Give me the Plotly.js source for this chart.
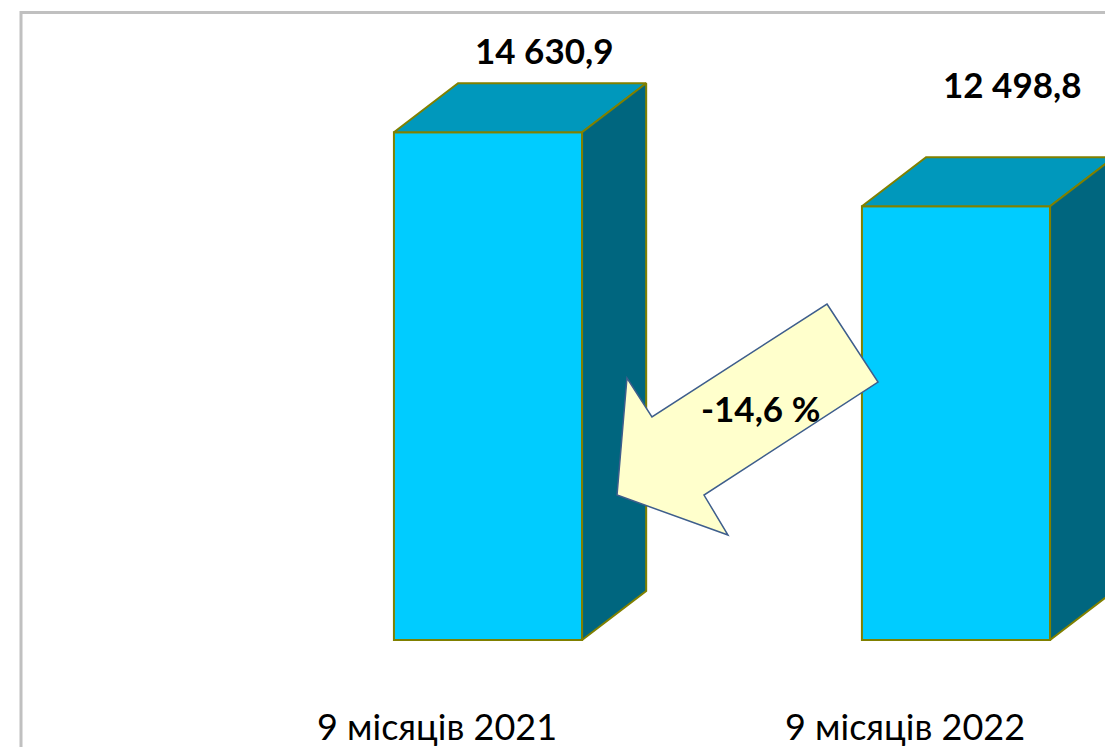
<!DOCTYPE html>
<html>
<head>
<meta charset="utf-8">
<script src="https://cdn.plot.ly/plotly-3.0.1.min.js"></script>
<style>html,body{margin:0;padding:0;background:#fff;}#chart{width:1105px;height:747px;}</style>
</head>
<body>
<div id="chart"></div>
<script>
// ---- data ----
const categories = ["9 місяців 2021", "9 місяців 2022"];
const values = [14630.9, 12498.8];
const valueLabels = ["14 630,9", "12 498,8"];
const changeLabel = "-14,6 %";

// ---- style / geometry (layout only) ----
const W = 1105, H = 747;
const xs = categories.map((c, i) => i);
const barW = 0.402;          // bar width in category units
const depthX = 0.137;        // 3D depth offset (x, category units)
const depthY = 1412;         // 3D depth offset (y, value units)
const frontColor = "#00CCFF", topColor = "#0098BC", sideColor = "#00667F", edge = "#808000";

const traces = [];
// front faces
traces.push({
  type: "bar", x: xs, y: values, width: barW,
  marker: {color: frontColor, line: {color: edge, width: 2}},
  hoverinfo: "skip", showlegend: false
});
// top & side faces derived from values
xs.forEach((x, i) => {
  const v = values[i], l = x - barW / 2, r = x + barW / 2;
  traces.push({
    type: "scatter", mode: "lines", fill: "toself", fillcolor: topColor,
    x: [l, r, r + depthX, l + depthX, l], y: [v, v, v + depthY, v + depthY, v],
    line: {color: edge, width: 2}, hoverinfo: "skip", showlegend: false
  });
  traces.push({
    type: "scatter", mode: "lines", fill: "toself", fillcolor: sideColor,
    x: [r, r + depthX, r + depthX, r, r], y: [0, depthY, v + depthY, v, 0],
    line: {color: edge, width: 2}, hoverinfo: "skip", showlegend: false
  });
});

// pixel helpers for decorations
const px = x => x / W, py = y => 1 - y / H;
const arrowPts = [[827,304],[878,382],[704,495],[728,535],[617,495],[627,378],[652,417]];
const arrowPath = "M " + arrowPts.map(p => px(p[0]).toFixed(4) + "," + py(p[1]).toFixed(4)).join(" L ") + " Z";

const annotations = [];
xs.forEach((x, i) => {
  annotations.push({
    x: x + 0.12, xref: "x", y: values[i], yref: "y",
    yshift: 82 + (values[0] - values[i]) * 0.0347 * 0.54,
    text: "<b>" + valueLabels[i] + "</b>", showarrow: false,
    font: {family: "Lato, 'Open Sans', sans-serif", size: 35, color: "#000"},
    xanchor: "center", yanchor: "middle"
  });
  annotations.push({
    x: x - 0.11, xref: "x", y: py(726), yref: "paper",
    text: categories[i], showarrow: false,
    font: {family: "Lato, 'Open Sans', sans-serif", size: 36, color: "#000"},
    xanchor: "center", yanchor: "middle"
  });
});
annotations.push({
  x: px(760), xref: "paper", y: py(408), yref: "paper",
  text: "<b>" + changeLabel + "</b>", showarrow: false,
  font: {family: "Lato, 'Open Sans', sans-serif", size: 35, color: "#000"},
  xanchor: "center", yanchor: "middle"
});

const layout = {
  width: W, height: H,
  margin: {l: 0, r: 0, t: 0, b: 0},
  paper_bgcolor: "#fff", plot_bgcolor: "rgba(0,0,0,0)",
  xaxis: {range: [-488 / 468, 617 / 468], visible: false, fixedrange: true},
  yaxis: {range: [-107 / 0.0347, 640 / 0.0347], visible: false, fixedrange: true},
  showlegend: false,
  shapes: [
    {type: "path", xref: "paper", yref: "paper",
     path: `M ${px(21)},0 L ${px(21)},${py(12.5)} L 1,${py(12.5)}`,
     line: {color: "#C0C0C0", width: 3}, layer: "below"},
    {type: "path", xref: "paper", yref: "paper", path: arrowPath,
     fillcolor: "#FFFFCC", line: {color: "#3E5E8C", width: 1.5}, layer: "above"}
  ],
  annotations: annotations
};

Plotly.newPlot("chart", traces, layout, {staticPlot: true, displayModeBar: false});
</script>
</body>
</html>
